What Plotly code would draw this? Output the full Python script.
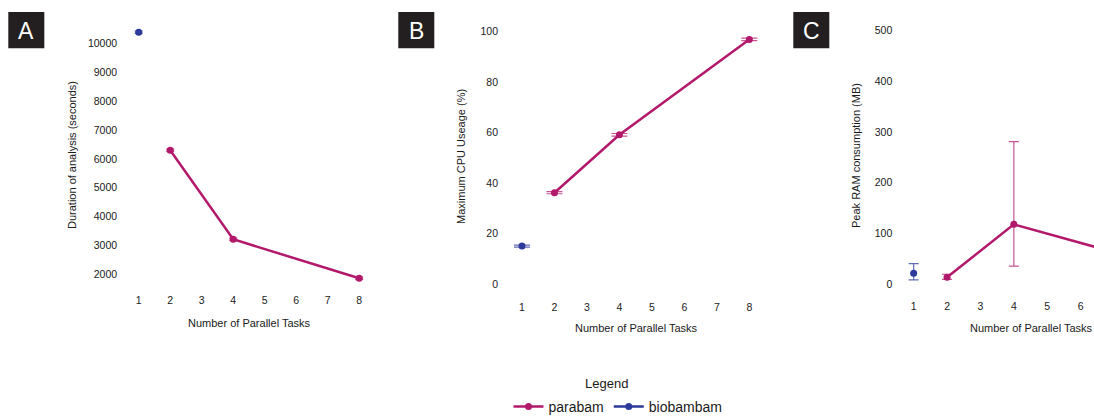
import plotly.graph_objects as go

# Parallel task counts
tasks_parabam = [2, 4, 8]
tasks_biobambam = [1]
tick_tasks = [1, 2, 3, 4, 5, 6, 7, 8]

# Duration of analysis (seconds)
duration_parabam = [6300, 3205, 1850]
duration_parabam_err = [40, 40, 40]
duration_biobambam = [10400]
duration_biobambam_err = [40]
duration_ticks = [2000, 3000, 4000, 5000, 6000, 7000, 8000, 9000, 10000]

# Maximum CPU usage (%)
cpu_parabam = [36.2, 59.1, 96.8]
cpu_parabam_err = [0.4, 0.5, 0.5]
cpu_biobambam = [15.1]
cpu_biobambam_err = [0.4]
cpu_ticks = [0, 20, 40, 60, 80, 100]

# Peak RAM consumption (MB)
ram_parabam = [13.8, 118, 45]
ram_parabam_err_up = [6, 163, 8]
ram_parabam_err_down = [4, 82, 8]
ram_biobambam = [21.6]
ram_biobambam_err_up = [19]
ram_biobambam_err_down = [13]
ram_ticks = [0, 100, 200, 300, 400, 500]

PARA = "#b3196b"
BIO = "#2c3a9b"
PARA_ERR = "rgba(179,25,107,0.75)"
BIO_ERR = "rgba(44,58,155,0.75)"
FONT = "Liberation Sans"
TXT = "#1a1a1a"

W, H = 1094, 416

fig = go.Figure()

panels = [
    dict(x="x", y="y",
         para=duration_parabam, para_up=duration_parabam_err, para_dn=duration_parabam_err,
         bio=duration_biobambam, bio_up=duration_biobambam_err, bio_dn=duration_biobambam_err,
         cap=4),
    dict(x="x2", y="y2",
         para=cpu_parabam, para_up=cpu_parabam_err, para_dn=cpu_parabam_err,
         bio=cpu_biobambam, bio_up=cpu_biobambam_err, bio_dn=cpu_biobambam_err,
         cap=8),
    dict(x="x3", y="y3",
         para=ram_parabam, para_up=ram_parabam_err_up, para_dn=ram_parabam_err_down,
         bio=ram_biobambam, bio_up=ram_biobambam_err_up, bio_dn=ram_biobambam_err_down,
         cap=5),
]

for i, p in enumerate(panels):
    fig.add_trace(go.Scatter(
        x=tasks_parabam, y=p["para"], xaxis=p["x"], yaxis=p["y"],
        mode="lines+markers", name="parabam", legendgroup="parabam",
        showlegend=(i == 0),
        line=dict(color=PARA, width=2.5),
        marker=dict(color=PARA, size=7),
        error_y=dict(type="data", symmetric=False, array=p["para_up"],
                     arrayminus=p["para_dn"], color=PARA_ERR,
                     thickness=1.2, width=p["cap"]),
    ))
    fig.add_trace(go.Scatter(
        x=tasks_biobambam, y=p["bio"], xaxis=p["x"], yaxis=p["y"],
        mode="lines+markers", name="biobambam", legendgroup="biobambam",
        showlegend=(i == 0),
        line=dict(color=BIO, width=2.5),
        marker=dict(color=BIO, size=7),
        error_y=dict(type="data", symmetric=False, array=p["bio_up"],
                     arrayminus=p["bio_dn"], color=BIO_ERR,
                     thickness=1.2, width=p["cap"]),
    ))


def px_x(v):
    return v / W


def px_y(v):
    return 1 - v / H


axis_common = dict(showgrid=False, zeroline=False, showline=False, ticks="",
                   tickfont=dict(family=FONT, size=10.5, color=TXT))
xaxis_common = dict(tickvals=tick_tasks, ticktext=[str(t) for t in tick_tasks],
                    **axis_common)

fig.update_layout(
    xaxis=dict(domain=[px_x(126.1), px_x(371.8)], range=[0.6, 8.4],
               anchor="y", ticklabelstandoff=2, **xaxis_common),
    yaxis=dict(domain=[px_y(290), px_y(20)], range=[1444, 10822],
               tickvals=duration_ticks, ticktext=[str(t) for t in duration_ticks],
               anchor="x", ticklabelstandoff=8, **axis_common),
    xaxis2=dict(domain=[px_x(509.0), px_x(762.3)], range=[0.6, 8.4],
                anchor="y2", ticklabelstandoff=3, **xaxis_common),
    yaxis2=dict(domain=[px_y(296), px_y(20)], range=[-4.62, 104.47],
                tickvals=cpu_ticks, ticktext=[str(t) for t in cpu_ticks],
                anchor="x2", ticklabelstandoff=10, **axis_common),
    xaxis3=dict(domain=[px_x(900.3), 1.0], range=[0.6, 6.4],
                anchor="y3", ticklabelstandoff=2, **xaxis_common),
    yaxis3=dict(domain=[px_y(296), px_y(20)], range=[-23.0, 520.3],
                tickvals=ram_ticks, ticktext=[str(t) for t in ram_ticks],
                anchor="x3", ticklabelstandoff=7, **axis_common),
)

annotations = []
# Axis titles
title_font = dict(family=FONT, size=11, color=TXT)
for text, cx, cy in [("Number of Parallel Tasks", 249, 323),
                     ("Number of Parallel Tasks", 636, 328),
                     ("Number of Parallel Tasks", 1031, 328)]:
    annotations.append(dict(text=text, x=px_x(cx), y=px_y(cy), xref="paper", yref="paper",
                            xanchor="center", yanchor="middle", showarrow=False,
                            font=title_font))
for text, cx, cy in [("Duration of analysis (seconds)", 72, 155),
                     ("Maximum CPU Useage (%)", 461, 157),
                     ("Peak RAM consumption (MB)", 856, 156)]:
    annotations.append(dict(text=text, x=px_x(cx), y=px_y(cy), xref="paper", yref="paper",
                            xanchor="center", yanchor="middle", showarrow=False,
                            textangle=-90, font=title_font))

# Legend heading
annotations.append(dict(text="Legend", x=px_x(606), y=px_y(383), xref="paper", yref="paper",
                        xanchor="center", yanchor="middle", showarrow=False,
                        font=dict(family=FONT, size=13, color=TXT)))

# Panel tags
shapes = []
for letter, x0 in [("A", 8.3), ("B", 398.3), ("C", 793.3)]:
    shapes.append(dict(type="rect", xref="paper", yref="paper",
                       x0=px_x(x0), x1=px_x(x0 + 36), y0=px_y(48.3), y1=px_y(12),
                       fillcolor="#231f20", line=dict(width=0)))
    annotations.append(dict(text=letter, x=px_x(x0 + 18), y=px_y(30.5), xref="paper",
                            yref="paper", xanchor="center", yanchor="middle",
                            showarrow=False,
                            font=dict(family=FONT, size=23, color="white")))

fig.update_layout(
    width=W, height=H, autosize=False,
    # fixed margins: the legend sits at the very bottom without resizing the panels
    margin=dict(l=0, r=0, t=0, b=0, autoexpand=False),
    paper_bgcolor="white", plot_bgcolor="white",
    font=dict(family=FONT, color=TXT),
    annotations=annotations, shapes=shapes,
    showlegend=True,
    legend=dict(orientation="h", x=px_x(618), xanchor="center",
                y=px_y(407), yanchor="middle",
                font=dict(family=FONT, size=14, color=TXT),
                itemwidth=30, bgcolor="rgba(0,0,0,0)"),
)

fig.write_html("out.html")
